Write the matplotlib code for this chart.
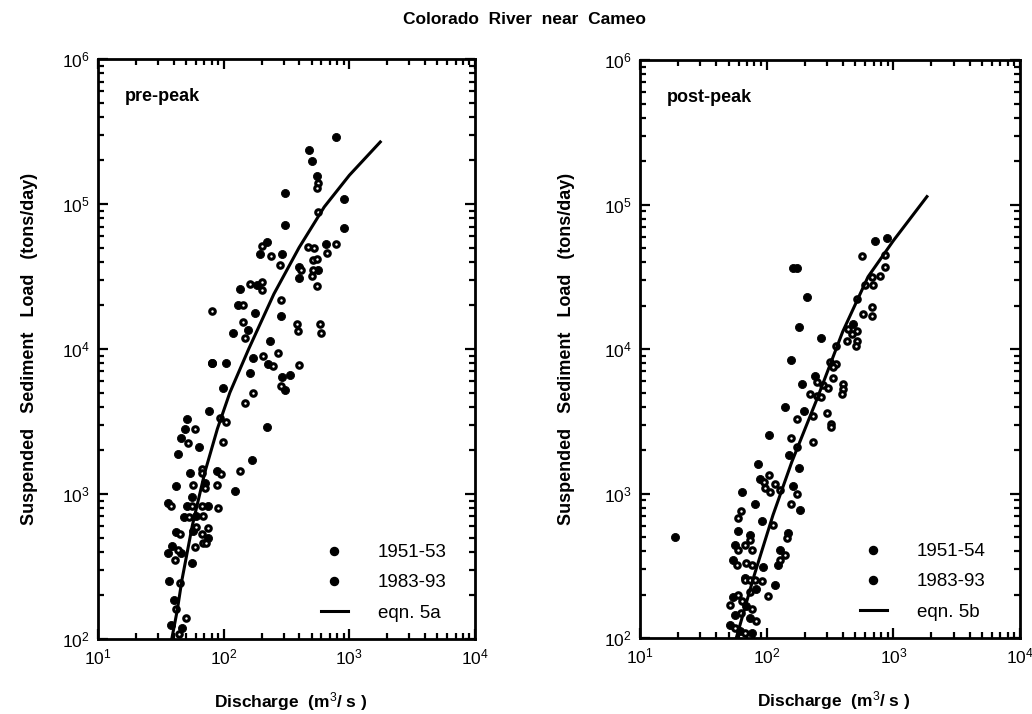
import matplotlib
matplotlib.use("Agg")
import matplotlib.pyplot as plt
from matplotlib.lines import Line2D

plt.rcParams['font.family'] = ['Liberation Sans', 'DejaVu Sans']
plt.rcParams['mathtext.fontset'] = 'custom'
plt.rcParams['mathtext.rm'] = 'Liberation Sans'
plt.rcParams['mathtext.it'] = 'Liberation Sans'

# ---- pre-peak data (discharge m3/s, load tons/day) ----
pre_q_51 = [780, 481, 500, 550, 310, 913, 310, 913, 650, 220, 193, 290, 401, 395, 560,
            134, 185, 130, 81, 178, 288, 118, 155, 232, 172, 225, 161, 81, 105, 290,
            98, 305, 334, 77, 51, 49, 46, 64, 43, 168, 220, 54, 88, 42, 71, 122,
            56, 36, 51, 75, 48, 60, 42, 57, 75, 39, 46, 36, 56, 37, 40, 38, 47]
pre_qs_51 = [290000, 236000, 198000, 155000, 119000, 108000, 72000, 68000, 53000, 55000,
             45000, 45000, 37000, 31000, 35000, 26000, 27500, 20000, 8000, 17800, 17000,
             12800, 13500, 11300, 8700, 7900, 6800, 8000, 8000, 6400, 5400, 5200, 6600,
             3760, 3300, 2800, 2450, 2100, 1900, 1710, 2900, 1400, 1450, 1130, 1200, 1050,
             950, 870, 830, 830, 690, 700, 550, 560, 500, 440, 390, 390, 335, 250, 186,
             125, 120]

pre_q_83 = [560, 550, 560, 470, 527, 780, 660, 510, 550, 200, 240, 278, 410, 510, 500,
            550, 161, 200, 200, 143, 81, 284, 143, 148, 205, 245, 270, 285, 170, 380,
            390, 401, 580, 590, 147, 93, 105, 59, 52, 98, 134, 67, 67, 96, 57, 71, 88,
            38, 56, 67, 90, 53, 68, 45, 60, 67, 75, 68, 43, 72, 59, 41, 45, 42, 44, 50]
pre_qs_83 = [140000, 129000, 88000, 50600, 50000, 53000, 46000, 41000, 42000, 51000,
             43500, 38000, 35000, 35000, 32000, 27000, 28000, 29000, 25500, 20000, 18300,
             21800, 15400, 12000, 9000, 7600, 9400, 5600, 5000, 15000, 13400, 7800,
             15000, 13000, 4250, 3340, 3120, 2800, 2250, 2300, 1450, 1500, 1400, 1380,
             1150, 1100, 1150, 830, 830, 830, 800, 690, 700, 530, 590, 530, 580, 460,
             410, 460, 430, 350, 245, 160, 108, 140]

pre_curve_q = [38.6, 42.7, 46.5, 56.2, 70.8, 89.1, 112, 158, 251, 398, 631, 1000, 1762]
pre_curve_qs = [100, 158, 255, 603, 1413, 2818, 5012, 10000, 24000, 50100, 95500, 158000, 268000]

# ---- post-peak data ----
post_q_54 = [710, 890, 161, 174, 207, 179, 155, 139, 104, 196, 480, 267, 240, 190,
             85, 150, 180, 89, 64, 161, 183, 81, 92, 148, 59, 74, 56, 127, 122, 54,
             94, 67, 116, 54, 83, 69, 56, 74, 51, 62, 77, 19]
post_qs_54 = [55600, 58300, 36200, 36200, 22900, 14200, 8400, 3980, 2550, 3730, 14900,
              11900, 6500, 5700, 1600, 1850, 1500, 1270, 1030, 1130, 764, 850, 641, 530,
              547, 513, 438, 404, 318, 345, 312, 259, 232, 191, 218, 166, 144, 137, 123,
              112, 108, 500]

post_q_83 = [565, 860, 860, 784, 675, 597, 690, 520, 675, 580, 675, 440, 520, 470, 430,
             520, 510, 350, 316, 355, 335, 335, 250, 276, 302, 400, 400, 395, 220, 250,
             270, 174, 230, 298, 322, 322, 155, 230, 174, 105, 95, 116, 97, 106, 127,
             174, 156, 63, 59, 112, 145, 74, 59, 67, 76, 139, 127, 58, 69, 76, 67, 74,
             81, 92, 103, 59, 74, 64, 76, 51, 63, 83, 56, 67]
post_qs_83 = [43800, 44400, 36800, 31800, 31400, 27600, 27600, 22100, 19500, 17400, 16900,
              13700, 13300, 12700, 11400, 11400, 10500, 10500, 8100, 7900, 7500, 6300,
              5900, 5600, 5400, 5750, 5300, 4900, 4900, 4750, 4670, 3290, 3450, 3620,
              3040, 2900, 2430, 2290, 2110, 1350, 1200, 1170, 1100, 1030, 1050, 1000, 850,
              752, 673, 603, 490, 474, 404, 438, 404, 373, 345, 318, 330, 318, 251, 251,
              251, 247, 195, 200, 208, 180, 160, 170, 148, 131, 117, 108]

post_curve_q = [57.5, 79.4, 112, 158, 251, 398, 631, 1000, 1841]
post_curve_qs = [100, 269, 708, 1660, 4571, 13180, 31620, 56230, 113500]

fig = plt.figure(figsize=(10.32, 7.14), dpi=100)
ax1 = fig.add_axes([0.0950, 0.1050, 0.3653, 0.8123])
ax2 = fig.add_axes([0.6202, 0.1064, 0.3682, 0.8095])

panels = [
    (ax1, pre_q_51, pre_qs_51, pre_q_83, pre_qs_83, pre_curve_q, pre_curve_qs,
     'pre-peak', ['1951-53', '1983-93', 'eqn. 5a'], 0.925),
    (ax2, post_q_54, post_qs_54, post_q_83, post_qs_83, post_curve_q, post_curve_qs,
     'post-peak', ['1951-54', '1983-93', 'eqn. 5b'], 0.91),
]

for ax, qa, qsa, qb, qsb, cq, cqs, tag, labels, lx in panels:
    ax.plot(qa, qsa, 'o', color='black', ms=5.8, mew=0.6, ls='none')
    ax.plot(qb, qsb, 'o', mfc='white', mec='black', ms=4.0, mew=2.2, ls='none')
    ax.plot(cq, cqs, color='black', lw=2.2)

    ax.set_xscale('log')
    ax.set_yscale('log')
    ax.set_xlim(10, 1e4)
    ax.set_ylim(100, 1e6)

    for s in ax.spines.values():
        s.set_linewidth(2.0)
    ax.tick_params(which='both', direction='in', top=True, right=True,
                   width=1.6, labelsize=12.5, pad=6)
    ax.tick_params(which='major', length=7.5)
    ax.tick_params(which='minor', length=4)

    ax.text(0.07, 0.935, tag, transform=ax.transAxes, fontsize=13,
            fontweight='bold', va='center', ha='left')

    ax.set_xlabel('Discharge  (m$^3$/ s )', fontsize=12.5, fontweight='bold')
    ax.xaxis.set_label_coords(0.51, -0.088)
    ax.set_ylabel('Suspended   Sediment   Load   (tons/day)', fontsize=13,
                  fontweight='bold')

    handles = [
        Line2D([], [], marker='o', color='black', ms=5.8, ls='none'),
        Line2D([], [], marker='o', color='black', ms=5.8, ls='none'),
        Line2D([], [], color='black', lw=2.2),
    ]
    ax.legend(handles, labels, loc='lower right', bbox_to_anchor=(lx, 0.03),
              frameon=False, fontsize=13.5, handlelength=1.45, handletextpad=1.6,
              labelspacing=0.7, borderpad=0, borderaxespad=0)

ax1.yaxis.set_label_coords(-0.158, 0.5)
ax2.yaxis.set_label_coords(-0.171, 0.5)

fig.text(0.508, 0.972, 'Colorado  River  near  Cameo', ha='center', va='center',
         fontsize=12.5, fontweight='bold')

fig.savefig('out.png', dpi=100)
